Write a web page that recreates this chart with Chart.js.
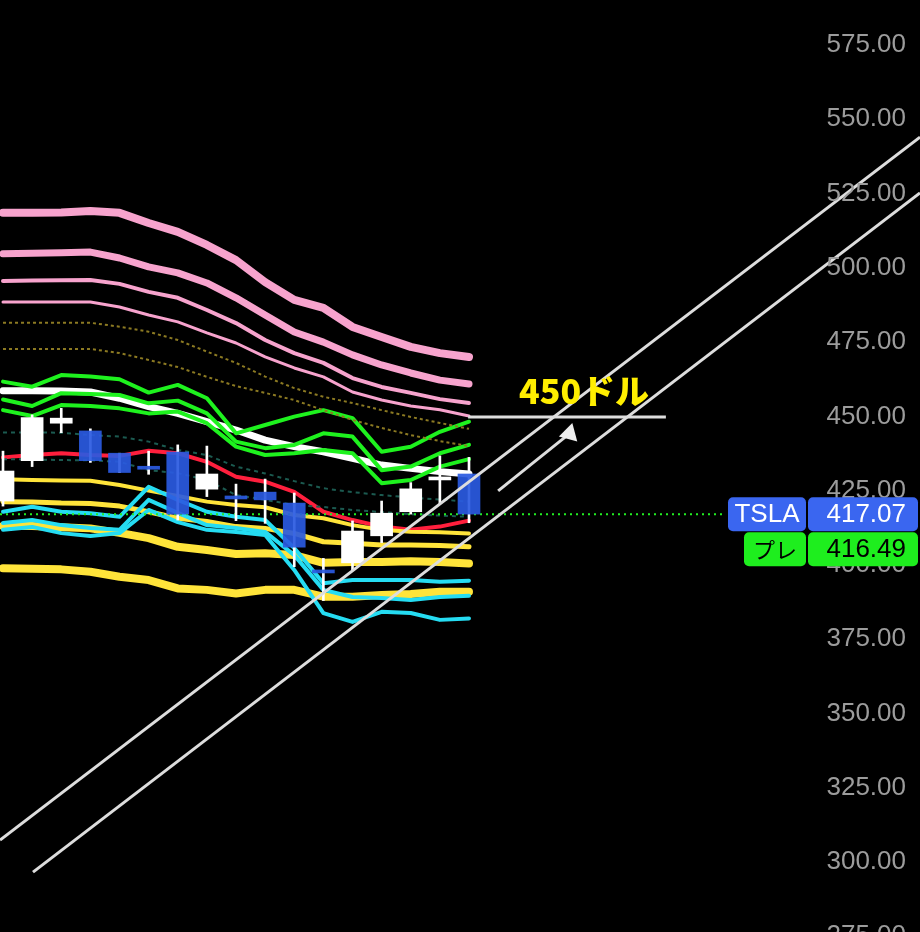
<!DOCTYPE html>
<html><head><meta charset="utf-8">
<script src="https://cdn.jsdelivr.net/npm/chart.js@4"></script>
<style>html,body{margin:0;padding:0;background:#000;}#wrap{width:920px;height:932px;}</style>
</head><body><div id="wrap"><canvas id="c"></canvas></div>
<script>
const idx=[0,1,2,3,4,5,6,7,8,9,10,11,12,13,14,15,16];
const opens =[421.5,435.1,447.7,445.1,437.6,432.6,438.0,425.5,422.5,424.5,420.8,397.8,400.7,409.8,417.9,428.6,430.6];
const closes=[431.6,449.6,449.4,435.1,431.1,432.2,417.1,430.6,422.2,421.9,406.0,397.3,411.4,417.4,425.6,429.0,417.1];
const highs =[438.3,450.5,452.7,445.8,437.6,438.3,440.4,440.0,427.2,428.9,424.2,402.2,414.8,421.5,427.7,436.7,436.2];
const lows  =[419.8,433.1,444.5,434.5,431.1,430.5,415.1,423.0,414.9,414.0,399.4,388.0,398.3,407.5,417.1,420.7,414.2];
const pink1=[518.5,518.5,518.6,519.1,518.5,515.1,512.1,507.7,502.6,495.2,489.2,486.5,480.1,476.7,473.4,471.3,470.0];
const pink2=[504.7,504.9,505.1,505.3,503.3,500.3,498.3,494.9,489.9,484.1,478.4,475.0,470.7,467.3,464.6,462.2,460.9];
const pink3=[495.6,495.7,495.8,495.9,494.6,491.9,489.9,485.8,481.4,475.7,471.3,468.0,462.9,459.9,457.9,455.8,454.5];
const pink4=[488.5,488.5,488.5,488.5,486.8,484.1,481.8,478.1,474.7,470.0,466.3,463.3,458.2,455.5,453.5,452.2,450.1];
const dot1=[481.5,481.5,481.5,481.5,480.2,478.5,475.7,471.8,468.0,463.4,459.5,456.6,454.5,452.1,449.8,447.8,445.8];
const dot2=[472.7,472.7,472.7,472.7,471.3,469.0,466.6,463.3,460.2,457.9,455.5,452.1,448.8,446.1,443.7,441.7,440.0];
const green1=[461.7,460.0,463.9,463.4,462.5,458.0,460.6,456.1,444.3,447.1,449.9,452.1,449.4,438.1,439.8,444.8,448.2];
const green2=[455.7,453.5,457.8,457.5,457.2,454.4,455.3,451.0,441.5,439.3,440.4,444.3,443.2,431.9,433.1,437.6,440.4];
const green3=[452.1,450.1,453.8,453.5,452.7,451.0,451.6,447.7,439.8,437.0,437.6,438.7,437.6,427.5,428.6,433.1,435.6];
const whiteMA=[458.6,458.6,458.5,458.2,456.1,453.3,451.0,448.2,445.4,442.0,439.8,438.1,435.9,433.6,432.5,431.4,430.6];
const teal1=[444.6,444.6,444.5,443.7,443.2,441.5,438.7,437.0,433.1,430.8,428.2,425.8,424.5,423.5,422.7,422.0,421.3];
const teal2=[435.6,435.5,435.3,435.2,434.7,431.9,430.9,428.6,423.5,421.9,420.2,419.5,418.5,417.8,417.1,416.6,416.2];
const red=[436.2,437.0,437.6,437.0,436.7,438.4,437.6,434.7,429.7,428.0,424.6,417.9,415.1,412.9,411.8,412.9,414.9];
const yellow1=[428.8,428.6,428.4,428.3,426.9,425.0,423.2,421.3,420.2,419.4,416.8,415.7,413.4,411.8,411.2,411.0,410.6];
const yellow2=[421.3,421.2,420.8,420.7,419.8,417.9,415.7,414.6,412.9,412.3,410.6,407.8,407.3,406.7,406.7,406.5,406.1];
const yellow3=[413.1,413.1,412.7,412.3,410.8,409.0,406.1,405.0,403.7,403.9,403.3,400.7,401.0,401.0,401.2,401.0,400.5];
const yellow4=[398.9,398.7,398.5,397.7,396.0,394.9,392.1,391.6,390.4,391.6,391.6,389.3,389.3,389.9,390.2,391.0,391.0];
const cyan1=[417.9,419.6,417.9,417.4,416.2,426.3,421.9,417.9,416.2,415.1,405.7,393.8,394.9,394.9,394.9,394.3,394.7];
const cyan2=[414.1,415.1,413.4,412.4,411.8,421.9,417.5,413.4,412.4,411.1,403.3,391.6,389.2,388.9,388.2,389.2,389.6];
const cyan3=[411.8,412.8,410.7,409.7,410.7,418.5,414.4,411.8,411.1,410.1,398.3,383.8,380.8,384.2,383.8,381.5,382.0];
const channelA={x:[-0.103,31.485],y:[307.4,544.0]};
const channelB={x:[1.03,31.485],y:[296.6,525.2]};
const targetLine={x:[15.97,22.76],y:[449.8,449.8]};
const arrowLine={x:[17.0,19.45],y:[424.9,444.2]};
const lastPrice=417.07, preLabel="プレ", preValue="416.49", ticker="TSLA";
const targetText="450ドル", targetTextPos={x:19.95,y:458.5};
const yTicks=[275,300,325,350,375,400,425,450,475,500,525,550,575];

const pts=a=>a.map((v,i)=>({x:idx[i],y:v}));
const pts2=o=>o.x.map((x,i)=>({x:x,y:o.y[i]}));
const line=(data,color,w,extra)=>Object.assign({type:'line',data:pts(data),borderColor:color,borderWidth:w,pointRadius:0,tension:0,order:5,borderCapStyle:'round',borderJoinStyle:'round'},extra||{});

const datasets=[
 line(pink1,'#f7a3cd',8),line(pink2,'#f7a3cd',7),line(pink3,'#f7a3cd',4),line(pink4,'#f7a3cd',3),
 line(dot1,'#8c7a22',2,{borderDash:[3,3],borderCapStyle:'butt'}),line(dot2,'#8c7a22',2,{borderDash:[3,3],borderCapStyle:'butt'}),
 line(teal1,'#1b5a50',2,{borderDash:[4,4],borderCapStyle:'butt'}),line(teal2,'#1b5a50',2,{borderDash:[4,4],borderCapStyle:'butt'}),
 line(green1,'#1ef21e',4),line(green2,'#1ef21e',4),line(green3,'#1ef21e',4),
 line(cyan1,'#25dcf2',4),line(cyan2,'#25dcf2',4),line(cyan3,'#25dcf2',4),
 line(yellow1,'#ffe43a',4),line(yellow2,'#ffe43a',5),line(yellow3,'#ffe43a',8),line(yellow4,'#ffe43a',8),
 line(red,'#ff1f3d',4),
 line(whiteMA,'#ffffff',7),
 {type:'line',data:[{x:-0.103,y:lastPrice},{x:24.8,y:lastPrice}],borderColor:'#22ee22',borderWidth:2,borderDash:[2,4],pointRadius:0,order:4},
 {type:'bar',grouped:false,data:idx.map(i=>({x:i,y:[lows[i],highs[i]]})),backgroundColor:'#ffffff',barThickness:2,order:3},
 {type:'bar',grouped:false,data:idx.map(i=>({x:i,y:[opens[i],closes[i]]})),backgroundColor:idx.map(i=>closes[i]>=opens[i]?'#ffffff':'rgba(42,90,225,0.92)'),barThickness:22,minBarLength:3,order:2},
 {type:'line',data:pts2(channelA),borderColor:'#dddddd',borderWidth:3,pointRadius:0,order:1},
 {type:'line',data:pts2(channelB),borderColor:'#dddddd',borderWidth:3,pointRadius:0,order:1},
 {type:'line',data:pts2(targetLine),borderColor:'#dddddd',borderWidth:3,pointRadius:0,order:1},
 {type:'line',data:pts2(arrowLine),borderColor:'#dddddd',borderWidth:3,order:1,
  pointRadius:[0,11],pointStyle:'triangle',pointRotation:[0,135],pointBackgroundColor:'#eeeeee',pointBorderWidth:0},
];

function rr(ctx,x,y,w,h,r){ctx.beginPath();ctx.roundRect(x,y,w,h,r);ctx.fill();}
const overlay={id:'overlay',
 beforeDraw(ch){const c=ch.ctx;c.save();c.fillStyle='#000';c.fillRect(0,0,ch.width,ch.height);c.restore();},
 afterDraw(ch){const c=ch.ctx,xs=ch.scales.x,ys=ch.scales.y;c.save();
  c.font='26px "Liberation Sans", sans-serif';c.fillStyle='#9c9c9c';c.textAlign='right';c.textBaseline='middle';
  yTicks.forEach(v=>c.fillText(v.toFixed(2),906,ys.getPixelForValue(v)));
  c.font='900 34px "Noto Sans CJK JP", "Liberation Sans", sans-serif';c.fillStyle='#ffee00';c.textAlign='center';
  c.fillText(targetText,xs.getPixelForValue(targetTextPos.x),ys.getPixelForValue(targetTextPos.y));
  const yc=ys.getPixelForValue(lastPrice);
  c.fillStyle='#3a66f0';rr(c,728,yc-17,78,34,5);rr(c,808,yc-17,110,34,5);
  c.fillStyle='#1eee1e';rr(c,744,yc+18,62,34,5);rr(c,808,yc+18,110,34,5);
  c.font='26px "Liberation Sans", sans-serif';c.textAlign='center';
  c.fillStyle='#fff';c.fillText(ticker,767,yc+1);c.textAlign='right';c.fillText(lastPrice.toFixed(2),906,yc+1);
  c.fillStyle='#000';c.textAlign='center';c.font='22px "Noto Sans CJK JP", sans-serif';c.fillText(preLabel,775,yc+35);
  c.font='26px "Liberation Sans", sans-serif';c.textAlign='right';c.fillText(preValue,906,yc+36);
  c.restore();}};

new Chart(document.getElementById('c'),{
 type:'bar',data:{datasets},
 options:{responsive:true,maintainAspectRatio:false,animation:false,
  layout:{padding:0,autoPadding:false},
  plugins:{legend:{display:false},tooltip:{enabled:false}},
  scales:{
   x:{type:'linear',min:-0.103,max:31.485,display:false,offset:false},
   y:{position:'right',min:276.44,max:590.15,grid:{display:false},border:{display:false},
      afterBuildTicks:s=>{s.ticks=yTicks.map(v=>({value:v}));},
      afterFit:s=>{s.width=0;},
      ticks:{display:false}}
  }},
 plugins:[overlay]});
</script></body></html>
